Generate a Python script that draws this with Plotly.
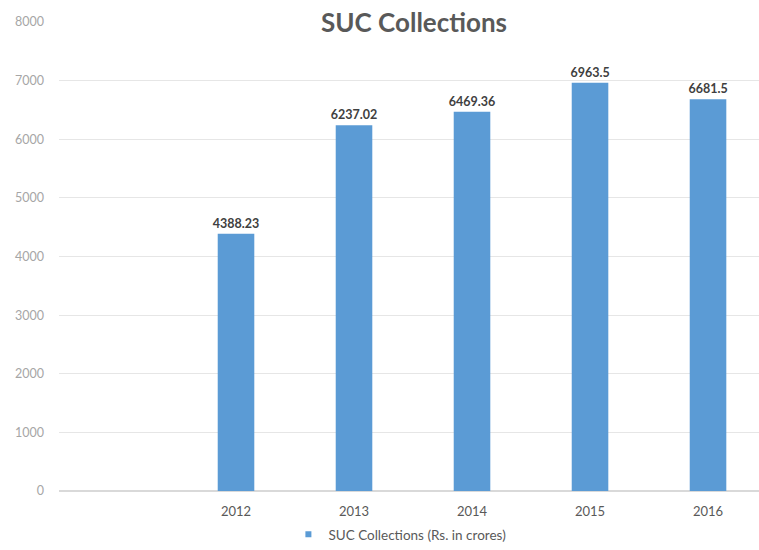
import plotly.graph_objects as go

years = [2012, 2013, 2014, 2015, 2016]
values = [4388.23, 6237.02, 6469.36, 6963.5, 6681.5]
labels = ["4388.23", "6237.02", "6469.36", "6963.5", "6681.5"]
y_ticks = [0, 1000, 2000, 3000, 4000, 5000, 6000, 7000, 8000]
series_name = "SUC Collections (Rs. in crores)"
title = "SUC Collections"
bar_color = "#5b9bd5"

fig = go.Figure()
fig.add_trace(go.Bar(
    x=years, y=values, name=series_name, showlegend=False,
    text=labels, textposition="outside", constraintext="none",
    textfont=dict(family="Lato", size=12.5, color="#404040", weight="bold"),
    marker=dict(color=bar_color, line=dict(width=0)),
    width=0.31, cliponaxis=False,
))
# legend entry with a small square swatch
fig.add_trace(go.Scatter(
    x=[None], y=[None], mode="markers", name=series_name,
    marker=dict(symbol="square", size=6, color=bar_color),
))

fig.update_layout(
    width=759, height=550,
    margin=dict(l=59, r=0, t=22, b=57),
    paper_bgcolor="white", plot_bgcolor="white",
    showlegend=True,
    legend=dict(orientation="h", x=0.487, xanchor="center", y=-0.093, yanchor="middle",
                font=dict(family="Lato", size=13.5, color="#595959"),
                itemwidth=30, itemsizing="trace", tracegroupgap=0),
    annotations=[dict(text=title, xref="paper", yref="paper", x=0.507, y=1.0,
                      xanchor="center", yanchor="middle", showarrow=False,
                      bgcolor="white", borderpad=4,
                      font=dict(family="Lato", size=26, color="#595959", weight="bold"))],
)
fig.update_xaxes(range=[2010.5, 2016.432], tickvals=years, ticktext=[str(y) for y in years],
                 showgrid=False, zeroline=False, showline=False, ticks="",
                 ticklabelstandoff=11,
                 tickfont=dict(family="Lato", size=13, color="#595959"))
fig.update_yaxes(range=[0, 8000], tickvals=y_ticks, showgrid=True, gridcolor="#e6e6e6",
                 gridwidth=1, zeroline=True, zerolinecolor="#d9d9d9", showline=False,
                 ticks="", ticklabelstandoff=14,
                 tickfont=dict(family="Lato", size=12.5, color="#a6a6a6"))

fig.write_html("out.html")
